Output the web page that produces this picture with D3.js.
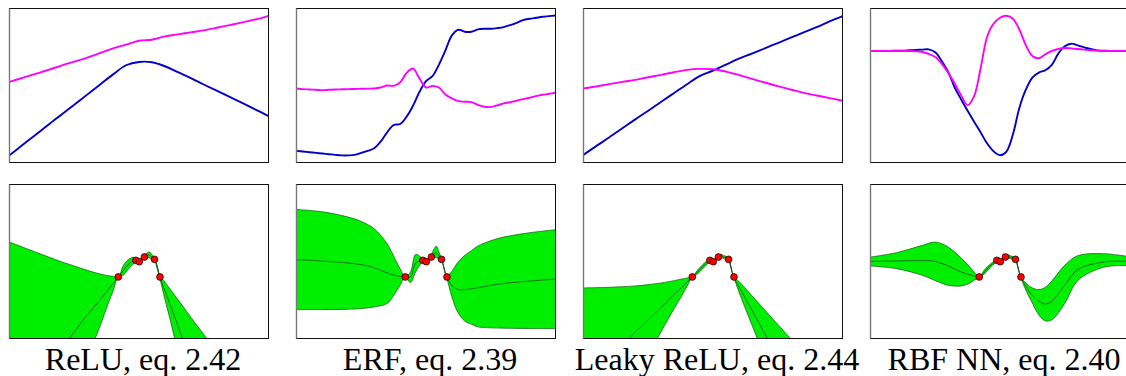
<!DOCTYPE html>
<html><head><meta charset="utf-8">
<script src="https://cdn.jsdelivr.net/npm/d3@7"></script>
<style>body{margin:0;background:#fff}svg{display:block}</style>
</head><body><svg id="c" width="1126" height="376"></svg>
<script>
// ---------- data ----------
const labels = ["ReLU, eq. 2.42", "ERF, eq. 2.39", "Leaky ReLU, eq. 2.44", "RBF NN, eq. 2.40"];

const xsTopCoarse = [-5,-4.5,-4,-3.5,-3,-2.5,-2,-1.5,-1,-0.5,0,0.5,1,1.5,2,2.5,3,3.5,4,4.5,5];
const xsTopFine = [-5,-4.75,-4.5,-4.25,-4,-3.75,-3.5,-3.25,-3,-2.75,-2.5,-2.25,-2,-1.75,-1.5,-1.25,-1,-0.75,-0.5,-0.25,0,0.25,0.5,0.75,1,1.25,1.5,1.75,2,2.25,2.5,2.75,3,3.25,3.5,3.75,4,4.25,4.5,4.75,5];

const reluBlue = [-2.10,-1.795,-1.49,-1.18,-0.88,-0.58,-0.275,0.03,0.335,0.61,0.71,0.70,0.58,0.40,0.22,0.03,-0.155,-0.34,-0.53,-0.725,-0.92];
const reluMag  = [0.11,0.23,0.35,0.47,0.60,0.72,0.84,0.98,1.12,1.23,1.35,1.38,1.48,1.54,1.60,1.66,1.74,1.82,1.90,1.99,2.10];

const erfBlue = [-1.97,-1.99,-2.01,-2.03,-2.05,-2.07,-2.09,-2.105,-2.105,-2.09,-2.03,-1.97,-1.89,-1.69,-1.41,-1.19,-1.16,-0.94,-0.61,-0.19,0.13,0.28,0.63,1.06,1.51,1.68,1.62,1.62,1.69,1.71,1.71,1.73,1.76,1.82,1.89,1.97,2.01,2.04,2.07,2.09,2.11];
const erfMag  = [-0.09,-0.11,-0.12,-0.13,-0.14,-0.13,-0.12,-0.115,-0.11,-0.105,-0.10,-0.095,-0.09,-0.06,0.00,-0.01,0.09,0.38,0.51,0.21,-0.06,-0.01,-0.06,-0.27,-0.39,-0.47,-0.49,-0.50,-0.58,-0.64,-0.65,-0.60,-0.54,-0.50,-0.46,-0.41,-0.37,-0.32,-0.28,-0.25,-0.22];

const lreluBlue = [-2.09,-1.82,-1.56,-1.29,-1.02,-0.76,-0.49,-0.225,0.04,0.29,0.45,0.63,0.81,0.96,1.12,1.28,1.44,1.60,1.76,1.93,2.09];
const lreluMag  = [-0.09,-0.025,0.04,0.11,0.17,0.25,0.32,0.40,0.47,0.50,0.49,0.42,0.32,0.20,0.09,-0.02,-0.12,-0.22,-0.30,-0.38,-0.46];

const rbfBlue = [1.04,1.04,1.04,1.04,1.05,1.05,1.06,1.07,1.08,1.09,1.00,0.74,0.41,-0.06,-0.42,-0.76,-1.09,-1.41,-1.74,-1.98,-2.10,-1.99,-1.47,-0.67,-0.12,0.24,0.39,0.46,0.62,0.96,1.18,1.26,1.21,1.15,1.10,1.06,1.05,1.04,1.04,1.04,1.04];
const rbfMag  = [1.04,1.04,1.04,1.04,1.04,1.04,1.04,1.03,1.01,0.95,0.86,0.66,0.38,0.06,-0.30,-0.59,-0.32,0.51,1.46,1.86,2.04,2.10,2.01,1.68,1.21,0.89,0.82,0.94,1.04,1.10,1.13,1.12,1.10,1.08,1.06,1.05,1.04,1.04,1.04,1.04,1.04];

const xsBottom = [-5,-4,-3,-2.5,-2,-1.5,-1.2,-1,-0.8,-0.6,-0.4,-0.2,-0.1,0,0.1,0.2,0.3,0.4,0.5,0.6,0.7,0.8,1,1.2,1.5,1.75,2,2.5,3,4,5];

const reluUpper = [0.585,0.285,-0.005,-0.135,-0.265,-0.375,-0.425,-0.445,-0.465,-0.115,0.065,0.125,0.065,0.025,0.105,0.155,0.255,0.285,0.205,0.085,-0.115,-0.415,-0.615,-0.825,-1.145,-1.405,-1.675,-2.195,-2.725,-3.775,-4.835];
const reluMean  = [-4.555,-3.575,-2.605,-2.125,-1.605,-1.155,-0.855,-0.665,-0.465,-0.265,-0.075,0.025,0.035,0.005,0.055,0.135,0.185,0.195,0.135,0.065,-0.165,-0.455,-0.875,-1.285,-1.935,-2.451,-2.995,-4.045,-5.105,-7.215,-9.335];
const reluLower = [-9.695,-7.435,-5.205,-4.115,-2.945,-1.935,-1.285,-0.885,-0.465,-0.405,-0.215,-0.065,0.005,-0.015,0.005,0.115,0.115,0.105,0.065,0.045,-0.215,-0.495,-1.135,-1.745,-2.725,-3.495,-4.315,-5.895,-7.485,-10.655,-13.835];

const erfUpper = [1.565,1.495,1.335,1.205,0.985,0.535,0.085,-0.215,-0.455,-0.315,0.215,0.135,0.055,0.025,0.095,0.165,0.365,0.455,0.285,0.085,-0.195,-0.445,-0.295,-0.055,0.185,0.325,0.465,0.625,0.735,0.865,0.955];
const erfMean  = [0.055,0.015,-0.045,-0.095,-0.185,-0.345,-0.42,-0.45,-0.465,-0.465,-0.045,0.025,0.035,0.005,0.055,0.135,0.225,0.265,0.165,0.065,-0.215,-0.465,-0.72,-0.83,-0.85,-0.82,-0.79,-0.72,-0.66,-0.59,-0.53];
const erfLower = [-1.445,-1.445,-1.435,-1.415,-1.365,-1.265,-0.965,-0.715,-0.475,-0.635,-0.315,-0.065,0.015,-0.015,0.025,0.105,0.125,0.115,0.085,0.045,-0.235,-0.485,-1.065,-1.485,-1.795,-1.885,-1.965,-1.995,-2.005,-2.015,-2.015];

const lreluUpper = [-0.795,-0.775,-0.735,-0.695,-0.645,-0.575,-0.525,-0.495,-0.465,-0.265,-0.095,0.035,0.065,0.025,0.105,0.175,0.215,0.185,0.155,0.095,-0.165,-0.465,-0.595,-0.765,-1.025,-1.243,-1.46,-1.891,-2.321,-3.185,-4.045];
const lreluMean  = [-3.65,-2.895,-2.131,-1.752,-1.374,-0.995,-0.774,-0.621,-0.465,-0.315,-0.155,-0.015,0.035,-0.005,0.065,0.135,0.165,0.135,0.115,0.075,-0.195,-0.465,-0.755,-1.04,-1.463,-1.816,-2.171,-2.875,-3.579,-4.985,-6.395];
const lreluLower = [-6.505,-5.015,-3.525,-2.805,-2.105,-1.415,-1.025,-0.745,-0.465,-0.375,-0.215,-0.065,0.005,-0.035,0.025,0.095,0.115,0.095,0.075,0.055,-0.225,-0.465,-0.915,-1.315,-1.905,-2.389,-2.885,-3.855,-4.835,-6.785,-8.745];

const rbfUpper = [0.135,0.265,0.485,0.585,0.435,0.105,-0.135,-0.315,-0.465,-0.245,-0.095,0.025,0.065,0.025,0.095,0.175,0.205,0.175,0.145,0.095,-0.175,-0.465,-0.645,-0.775,-0.845,-0.775,-0.585,-0.115,0.175,0.235,0.145];
const rbfMean  = [0.005,0.015,0.025,0.005,-0.135,-0.315,-0.395,-0.435,-0.465,-0.315,-0.145,-0.015,0.035,-0.005,0.065,0.135,0.155,0.125,0.105,0.065,-0.195,-0.465,-0.745,-0.975,-1.195,-1.275,-1.195,-0.715,-0.245,-0.015,0.005];
const rbfLower = [-0.135,-0.215,-0.415,-0.575,-0.715,-0.735,-0.665,-0.565,-0.465,-0.375,-0.195,-0.055,0.005,-0.035,0.035,0.095,0.105,0.085,0.065,0.035,-0.225,-0.465,-0.865,-1.175,-1.605,-1.785,-1.755,-1.265,-0.575,-0.175,-0.125];

const obsX = [-0.8,-0.12,0.01,0.21,0.6,0.81];
const obsY = [-0.465,0.035,-0.005,0.135,0.065,-0.465];

// ---------- layout table built from the arrays ----------
const panels = [
  {label: labels[0], tx: xsTopCoarse, blue: reluBlue,  mag: reluMag,  up: reluUpper,  mu: reluMean,  lo: reluLower},
  {label: labels[1], tx: xsTopFine,   blue: erfBlue,   mag: erfMag,   up: erfUpper,   mu: erfMean,   lo: erfLower},
  {label: labels[2], tx: xsTopCoarse, blue: lreluBlue, mag: lreluMag, up: lreluUpper, mu: lreluMean, lo: lreluLower},
  {label: labels[3], tx: xsTopFine,   blue: rbfBlue,   mag: rbfMag,   up: rbfUpper,   mu: rbfMean,   lo: rbfLower}
];

const svg = d3.select("#c");
const W = 259, H = 154, step = 287, left0 = 9.5, topY = 8.5, botY = 184.5;
const defs = svg.append("defs");

panels.forEach((p, i) => {
  const L = left0 + step * i;
  const x = d3.scaleLinear().domain([-5, 5]).range([L, L + W]);
  const yT = d3.scaleLinear().domain([-2.32, 2.32]).range([topY + H, topY]);
  const yB = d3.scaleLinear().domain([-2.315, 2.315]).range([botY + H, botY]);

  defs.append("clipPath").attr("id", "ct" + i).append("rect")
    .attr("x", L).attr("y", topY).attr("width", W).attr("height", H);
  defs.append("clipPath").attr("id", "cb" + i).append("rect")
    .attr("x", L).attr("y", botY).attr("width", W).attr("height", H);

  // top panel
  const gt = svg.append("g").attr("clip-path", `url(#ct${i})`);
  const lineT = d3.line().x(d => x(d[0])).y(d => yT(d[1])).curve(d3.curveCatmullRom.alpha(0.5));
  gt.append("path").datum(p.tx.map((v, k) => [v, p.blue[k]]))
    .attr("d", lineT).attr("fill", "none").attr("stroke", "#0000c8").attr("stroke-width", 1.9);
  gt.append("path").datum(p.tx.map((v, k) => [v, p.mag[k]]))
    .attr("d", lineT).attr("fill", "none").attr("stroke", "#ff00ff").attr("stroke-width", 1.9);

  // bottom panel
  const gb = svg.append("g").attr("clip-path", `url(#cb${i})`);
  const rows = xsBottom.map((v, k) => ({x: v, lo: p.lo[k], mu: p.mu[k], up: p.up[k]}));
  const area = d3.area().x(d => x(d.x)).y0(d => yB(d.lo)).y1(d => yB(d.up))
    .curve(d3.curveCatmullRom.alpha(0.5));
  gb.append("path").datum(rows).attr("d", area)
    .attr("fill", "#00ee00").attr("stroke", "#0a5a0a").attr("stroke-width", 0.7);
  const lineB = d3.line().x(d => x(d.x)).y(d => yB(d.mu)).curve(d3.curveCatmullRom.alpha(0.5));
  gb.append("path").datum(rows).attr("d", lineB)
    .attr("fill", "none").attr("stroke", "#1f3f1f").attr("stroke-width", 0.7);
  gb.selectAll("circle").data(obsX.map((v, k) => [v, obsY[k]])).join("circle")
    .attr("cx", d => x(d[0])).attr("cy", d => yB(d[1])).attr("r", 3.4)
    .attr("fill", "#ff0000").attr("stroke", "#000").attr("stroke-width", 0.7);

  // frames
  [topY, botY].forEach(y0 => {
    svg.append("rect").attr("x", L).attr("y", y0).attr("width", W).attr("height", H)
      .attr("fill", "none").attr("stroke", "#111").attr("stroke-width", 1);
    svg.append("line").attr("x1", L).attr("x2", L).attr("y1", y0).attr("y2", y0 + H)
      .attr("stroke", "#777").attr("stroke-width", 1.4);
  });

  svg.append("text").attr("x", L + W / 2 + 4).attr("y", 370)
    .attr("text-anchor", "middle")
    .attr("font-family", "'Liberation Serif', 'DejaVu Serif', serif")
    .attr("font-size", 32).attr("fill", "#000").text(p.label);
});
</script>
</body></html>
